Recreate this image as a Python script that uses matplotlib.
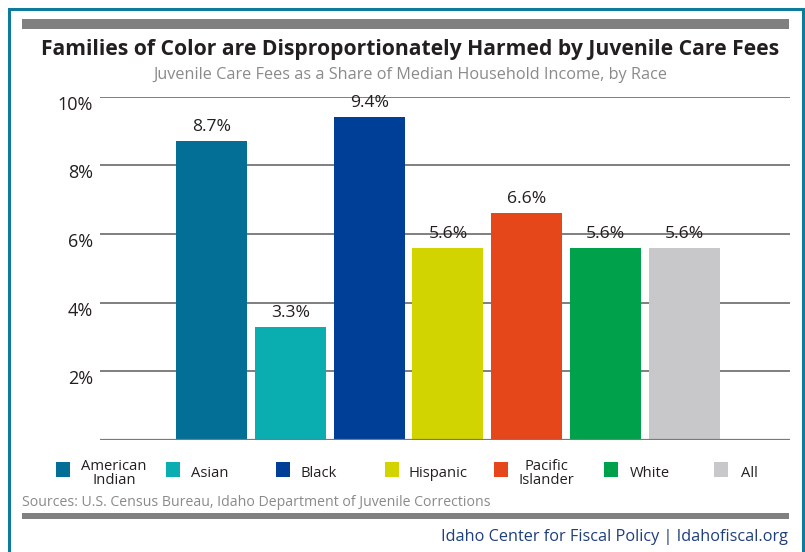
import matplotlib
matplotlib.use("Agg")
import matplotlib.pyplot as plt
from matplotlib.patches import Rectangle

categories = ["American\nIndian", "Asian", "Black", "Hispanic", "Pacific\nIslander", "White", "All"]
values = [8.7, 3.3, 9.4, 5.6, 6.6, 5.6, 5.6]
value_labels = ["8.7%", "3.3%", "9.4%", "5.6%", "6.6%", "5.6%", "5.6%"]
colors = ["#036f96", "#0aadb0", "#003f98", "#d2d400", "#e5461a", "#00a14b", "#c8c8ca"]
yticks = [2, 4, 6, 8, 10]
ytick_labels = ["2%", "4%", "6%", "8%", "10%"]

W, H = 805, 552
plt.rcParams['font.family'] = ['Open Sans', 'DejaVu Sans']
fig = plt.figure(figsize=(W / 100, H / 100), dpi=100)

def fx(x):
    return x / W

def fy(y):
    return 1 - y / H

# border
fig.patches.append(Rectangle((fx(9), fy(565)), fx(794), (565 - 9) / H, transform=fig.transFigure,
                             fill=False, edgecolor="#0e7a9c", linewidth=2.2))
# top gray bar
fig.patches.append(Rectangle((fx(22), fy(29)), fx(767), 10 / H, transform=fig.transFigure,
                             facecolor="#808080", edgecolor="none"))
# bottom gray bar
fig.patches.append(Rectangle((fx(22), fy(518.5)), fx(767), 6 / H, transform=fig.transFigure,
                             facecolor="#808080", edgecolor="none"))

fig.text(fx(410), fy(50), "Families of Color are Disproportionately Harmed by Juvenile Care Fees",
         ha="center", va="center", fontsize=15.2, fontweight="bold", color="#231f20")
fig.text(fx(410), fy(75), "Juvenile Care Fees as a Share of Median Household Income, by Race",
         ha="center", va="center", fontsize=11.7, color="#8a8a8a")

top, bottom = 96.7, 440
ax = fig.add_axes([fx(100), fy(bottom), fx(690), (bottom - top) / H])
x = list(range(len(values)))
ax.bar(x, values, width=0.9, color=colors, zorder=2)
for xi, v, lab in zip(x, values, value_labels):
    ax.annotate(lab, (xi, v), xytext=(0, 14), textcoords="offset pixels",
                ha="center", va="center", fontsize=12.6, color="#231f20")
for t in yticks:
    ax.axhline(t, color="#6a6a6a", linewidth=1.2, zorder=1)
ax.axhline(0, color="#7a7a7a", linewidth=1.6, zorder=3)
ax.set_ylim(0, 10)
ax.set_xlim(-1.415, 7.34)
ax.set_yticks([])
ax.set_xticks([])
for t, lab in zip(yticks, ytick_labels):
    ax.annotate(lab, (0, t), xycoords=("axes fraction", "data"), xytext=(-7, -8),
                textcoords="offset pixels", ha="right", va="center", fontsize=13,
                color="#231f20", annotation_clip=False)
for s in ax.spines.values():
    s.set_visible(False)
ax.patch.set_alpha(0)

# legend
sq_x = [56, 166, 276, 385, 494, 604, 714]
txt_x = [114, 210, 319, 438, 546, 650, 749]
for sx, tx, c, lab in zip(sq_x, txt_x, colors, categories):
    fig.patches.append(Rectangle((fx(sx), fy(477)), fx(14), 15 / H, transform=fig.transFigure,
                                 facecolor=c, edgecolor="none"))
    fig.text(fx(tx), fy(473.5), lab, ha="center", va="center", fontsize=10.6, color="#231f20",
             linespacing=0.95)

fig.text(fx(22), fy(503), "Sources: U.S. Census Bureau, Idaho Department of Juvenile Corrections",
         ha="left", va="center", fontsize=10.2, color="#8a8a8a")
fig.text(fx(788), fy(537), "Idaho Center for Fiscal Policy | Idahofiscal.org",
         ha="right", va="center", fontsize=11.7, color="#1f3f7a")

fig.savefig("out.png", dpi=100)
